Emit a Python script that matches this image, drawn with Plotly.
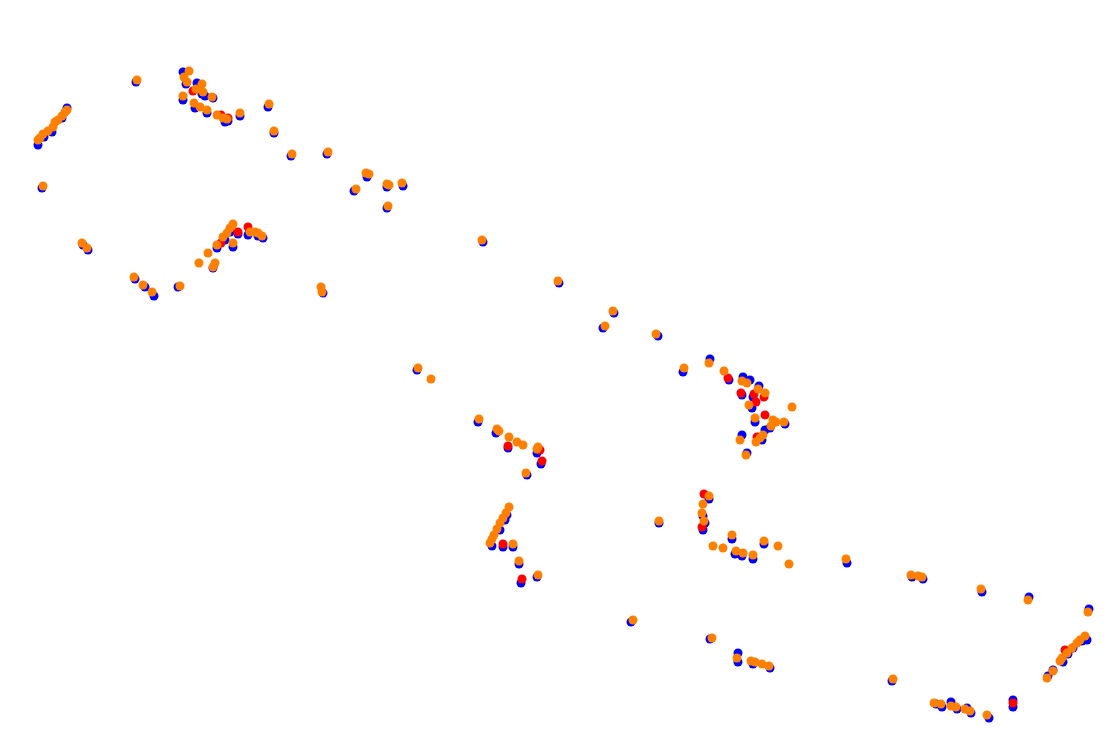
import plotly.graph_objects as go

# Values (x to the right, y downward)
blue_x = [67, 52, 38, 62, 44, 42, 83, 88, 136,
          183, 197, 205, 213, 183, 207, 225, 240, 195, 186, 202, 228,
          230, 238, 248, 263, 217, 213, 233, 178, 323, 225, 258,
          135, 145, 154, 268, 274, 291,
          327, 367, 354, 387, 403, 387,
          483, 559, 614, 603, 658,
          417, 478, 496, 508, 537, 541, 527,
          507, 500, 492, 503, 513, 519, 521, 537, 505,
          710, 683, 743, 750, 759, 752, 755, 742, 753, 785, 770, 765, 742, 762, 747, 729,
          709, 703, 705, 703, 732, 735, 742, 753, 764, 847, 659,
          923, 912, 982, 1029, 1089, 1087, 1073, 1063, 1053, 1048, 892, 936, 942, 951, 957,
          967, 971, 989, 1013, 1013, 1082, 1068,
          631, 710, 738, 738, 753, 770]
blue_y = [108, 132, 145, 118, 137, 188, 245, 250, 82,
          72, 83, 96, 98, 100, 113, 122, 116, 108, 84, 94, 121,
          232, 234, 235, 238, 248, 268, 247, 287, 293, 240, 236,
          279, 287, 296, 107, 133, 156,
          154, 177, 191, 187, 186, 208,
          242, 283, 313, 328, 336,
          370, 422, 433, 448, 453, 464, 475,
          515, 530, 546, 547, 547, 564, 583, 577, 520,
          359, 372, 377, 380, 386, 408, 422, 395, 397, 424, 428, 430, 435, 440, 453, 380,
          499, 516, 523, 530, 539, 554, 556, 559, 544, 563, 523,
          579, 577, 592, 597, 609, 640, 648, 662, 670, 676, 681, 704, 707, 702, 709,
          708, 713, 718, 700, 707, 641, 654,
          622, 639, 653, 662, 664, 668]

red_x = [193, 221, 228, 248, 238, 221, 508, 542, 540, 503, 522,
         728, 741, 754, 756, 765, 764, 757, 704, 702, 1013, 1065]
red_y = [91, 115, 118, 227, 232, 243, 446, 461, 450, 544, 579,
         378, 393, 394, 402, 415, 397, 437, 494, 527, 703, 650]

orange_x = [67, 65, 62, 58, 55, 53, 48, 43, 40, 38, 43, 82, 87, 137,
            189, 184, 187, 196, 202, 203, 212, 183, 194, 200, 207, 217, 223, 227, 240, 269, 274, 292,
            233, 230, 227, 223, 217, 208, 199, 215, 213, 233, 250, 255, 258, 262,
            180, 134, 143, 152, 321, 322,
            328, 366, 369, 356, 387, 389, 402, 388,
            482, 558, 613, 605, 656,
            418, 431, 479, 497, 499, 509, 517, 523, 537, 538, 526,
            509, 506, 503, 500, 497, 494, 492, 490, 513, 519, 538,
            684, 709, 724, 742, 747, 758, 765, 749, 755, 792, 773, 776, 771, 784, 763, 760, 756, 740, 746,
            709, 703, 702, 704, 732, 713, 723, 736, 743, 753, 764, 778, 789, 846, 659,
            911, 918, 922, 981, 1028, 1088, 1085, 1080, 1077, 1072, 1067, 1062, 1060, 1053, 1047,
            893, 934, 941, 951, 956, 965, 970, 987,
            633, 712, 737, 751, 755, 762, 769]
orange_y = [110, 112, 116, 120, 122, 127, 131, 134, 138, 140, 186, 243, 248, 80,
            71, 77, 82, 89, 84, 92, 97, 96, 103, 107, 110, 115, 118, 119, 113, 104, 131, 154,
            224, 228, 233, 237, 245, 253, 263, 263, 267, 243, 232, 232, 233, 236,
            286, 277, 285, 292, 287, 292,
            152, 173, 174, 189, 184, 185, 183, 206,
            240, 281, 311, 326, 334,
            368, 379, 419, 429, 431, 437, 442, 445, 449, 447, 473,
            507, 513, 518, 523, 529, 535, 539, 543, 544, 561, 575,
            368, 363, 371, 381, 383, 389, 393, 405, 418, 407, 420, 422, 426, 422, 435, 438, 442, 440, 455,
            496, 504, 513, 521, 535, 546, 548, 551, 553, 555, 541, 546, 564, 559, 521,
            575, 576, 577, 589, 600, 612, 636, 640, 643, 648, 653, 658, 661, 671, 678,
            679, 703, 704, 706, 707, 709, 711, 715,
            620, 638, 658, 661, 662, 664, 666]

fig = go.Figure()
fig.add_trace(go.Scatter(x=blue_x, y=blue_y, mode="markers", name="blue",
                         marker=dict(color="#0000ff", size=9)))
fig.add_trace(go.Scatter(x=red_x, y=red_y, mode="markers", name="red",
                         marker=dict(color="#ff0000", size=9)))
fig.add_trace(go.Scatter(x=orange_x, y=orange_y, mode="markers", name="orange",
                         marker=dict(color="#ff8000", size=9)))

fig.update_layout(
    width=1096, height=732,
    margin=dict(l=0, r=0, t=0, b=0),
    paper_bgcolor="white", plot_bgcolor="white",
    showlegend=False,
    xaxis=dict(range=[8, 1104], visible=False),
    yaxis=dict(range=[740, 8], visible=False),
)
fig.write_html("out.html")
